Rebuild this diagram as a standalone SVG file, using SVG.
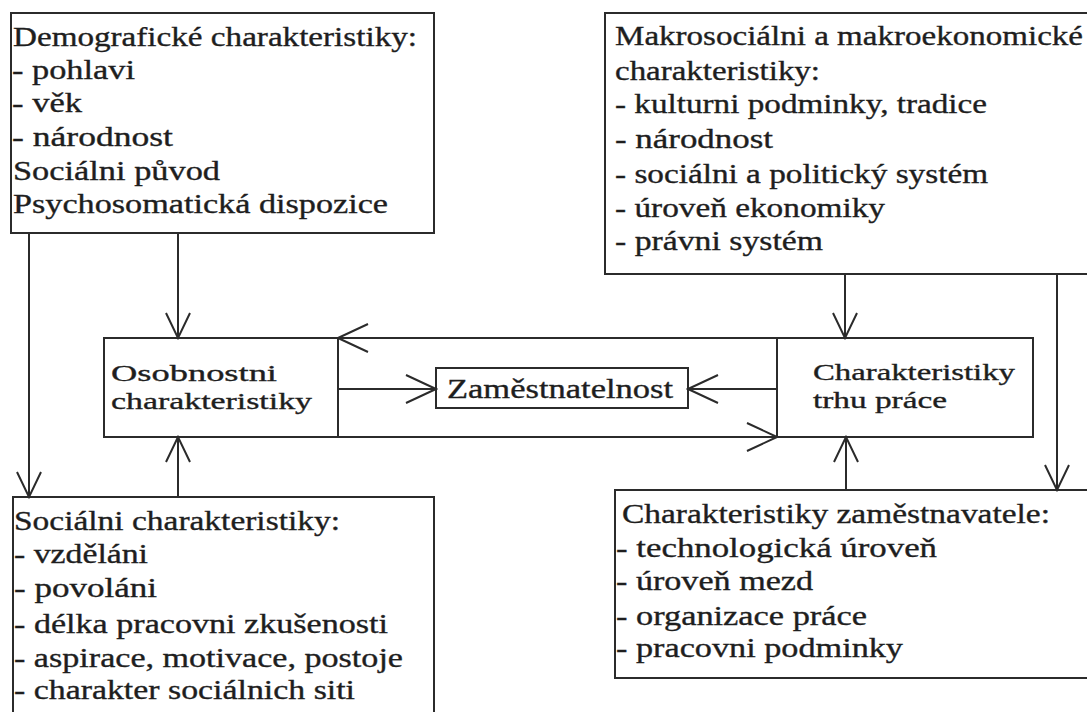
<svg xmlns="http://www.w3.org/2000/svg" width="1087" height="712" viewBox="0 0 1087 712">
<style>
.box{fill:#fff;stroke:#2b2b2b;stroke-width:2}
.t{font-family:"Liberation Serif","Times New Roman",serif;font-size:27px;fill:#1e1e1e;stroke:#1e1e1e;stroke-width:0.35}
.m{font-size:24px}
.c{fill:none;stroke:#2b2b2b;stroke-width:2}
</style>
<defs>
<marker id="ah" markerUnits="userSpaceOnUse" viewBox="-34 -16 36 32" markerWidth="36" markerHeight="32" refX="0" refY="0" orient="auto">
<path d="M-30,-14 L0,0 L-30,14" fill="none" stroke="#2b2b2b" stroke-width="2"/>
</marker>
<marker id="av" markerUnits="userSpaceOnUse" viewBox="-30 -15 32 30" markerWidth="32" markerHeight="30" refX="0" refY="0" orient="auto">
<path d="M-25,-12 L0,0 L-25,12" fill="none" stroke="#2b2b2b" stroke-width="2"/>
</marker>
</defs>
<rect width="1087" height="712" fill="#fff"/>

<g id="demograficke">
<rect class="box" x="11" y="13" width="423" height="220"/>
<text class="t" x="13" y="46" textLength="404" lengthAdjust="spacingAndGlyphs">Demografické charakteristiky:</text>
<text class="t" x="12" y="79" textLength="123" lengthAdjust="spacingAndGlyphs">- pohlavi</text>
<text class="t" x="12" y="112" textLength="70" lengthAdjust="spacingAndGlyphs">- věk</text>
<text class="t" x="12" y="146" textLength="161" lengthAdjust="spacingAndGlyphs">- národnost</text>
<text class="t" x="13" y="180" textLength="207" lengthAdjust="spacingAndGlyphs">Sociálni původ</text>
<text class="t" x="13" y="213" textLength="375" lengthAdjust="spacingAndGlyphs">Psychosomatická dispozice</text>
</g>

<g id="makro">
<rect class="box" x="605" y="13" width="500" height="261"/>
<text class="t" x="615" y="45" textLength="468" lengthAdjust="spacingAndGlyphs">Makrosociálni a makroekonomické</text>
<text class="t" x="615" y="80" textLength="205" lengthAdjust="spacingAndGlyphs">charakteristiky:</text>
<text class="t" x="615" y="113" textLength="372" lengthAdjust="spacingAndGlyphs">- kulturni podminky, tradice</text>
<text class="t" x="615" y="148" textLength="158" lengthAdjust="spacingAndGlyphs">- národnost</text>
<text class="t" x="615" y="183" textLength="373" lengthAdjust="spacingAndGlyphs">- sociálni a politický systém</text>
<text class="t" x="615" y="217" textLength="270" lengthAdjust="spacingAndGlyphs">- úroveň ekonomiky</text>
<text class="t" x="615" y="250" textLength="208" lengthAdjust="spacingAndGlyphs">- právni systém</text>
</g>

<g id="osobnostni">
<rect class="box" x="104" y="338" width="234" height="99"/>
<text class="t m" x="111" y="381" textLength="166" lengthAdjust="spacingAndGlyphs">Osobnostni</text>
<text class="t m" x="111" y="409" textLength="201" lengthAdjust="spacingAndGlyphs">charakteristiky</text>
</g>

<g id="zamestnatelnost">
<rect class="box" x="436" y="368" width="252" height="40"/>
<text class="t" x="447" y="398" textLength="226" lengthAdjust="spacingAndGlyphs">Zaměstnatelnost</text>
</g>

<g id="trh">
<rect class="box" x="777" y="338" width="256" height="99"/>
<text class="t m" x="813" y="380" textLength="202" lengthAdjust="spacingAndGlyphs">Charakteristiky</text>
<text class="t m" x="813" y="408" textLength="134" lengthAdjust="spacingAndGlyphs">trhu práce</text>
</g>

<g id="socialni">
<rect class="box" x="13" y="497" width="421" height="230"/>
<text class="t" x="14" y="530" textLength="326" lengthAdjust="spacingAndGlyphs">Sociálni charakteristiky:</text>
<text class="t" x="14" y="563" textLength="134" lengthAdjust="spacingAndGlyphs">- vzděláni</text>
<text class="t" x="14" y="597" textLength="143" lengthAdjust="spacingAndGlyphs">- povoláni</text>
<text class="t" x="14" y="633" textLength="374" lengthAdjust="spacingAndGlyphs">- délka pracovni zkušenosti</text>
<text class="t" x="14" y="667" textLength="389" lengthAdjust="spacingAndGlyphs">- aspirace, motivace, postoje</text>
<text class="t" x="14" y="699" textLength="341" lengthAdjust="spacingAndGlyphs">- charakter sociálnich siti</text>
</g>

<g id="zamestnavatel">
<rect class="box" x="615" y="490" width="490" height="188"/>
<text class="t" x="622" y="523" textLength="428" lengthAdjust="spacingAndGlyphs">Charakteristiky zaměstnavatele:</text>
<text class="t" x="616" y="557" textLength="321" lengthAdjust="spacingAndGlyphs">- technologická úroveň</text>
<text class="t" x="616" y="590" textLength="197" lengthAdjust="spacingAndGlyphs">- úroveň mezd</text>
<text class="t" x="616" y="625" textLength="251" lengthAdjust="spacingAndGlyphs">- organizace práce</text>
<text class="t" x="616" y="657" textLength="287" lengthAdjust="spacingAndGlyphs">- pracovni podminky</text>
</g>

<g id="connectors">
<line class="c" x1="178" y1="233" x2="178" y2="338" marker-end="url(#av)"/>
<line class="c" x1="29" y1="233" x2="29" y2="497" marker-end="url(#av)"/>
<line class="c" x1="178" y1="497" x2="178" y2="437" marker-end="url(#av)"/>
<line class="c" x1="338" y1="389" x2="436" y2="389" marker-end="url(#ah)"/>
<line class="c" x1="777" y1="389" x2="688" y2="389" marker-end="url(#ah)"/>
<line class="c" x1="777" y1="338" x2="338" y2="338" marker-end="url(#ah)"/>
<line class="c" x1="338" y1="437" x2="777" y2="437" marker-end="url(#ah)"/>
<line class="c" x1="845" y1="274" x2="845" y2="338" marker-end="url(#av)"/>
<line class="c" x1="1057" y1="274" x2="1057" y2="490" marker-end="url(#av)"/>
<line class="c" x1="846" y1="490" x2="846" y2="437" marker-end="url(#av)"/>
</g>
</svg>
